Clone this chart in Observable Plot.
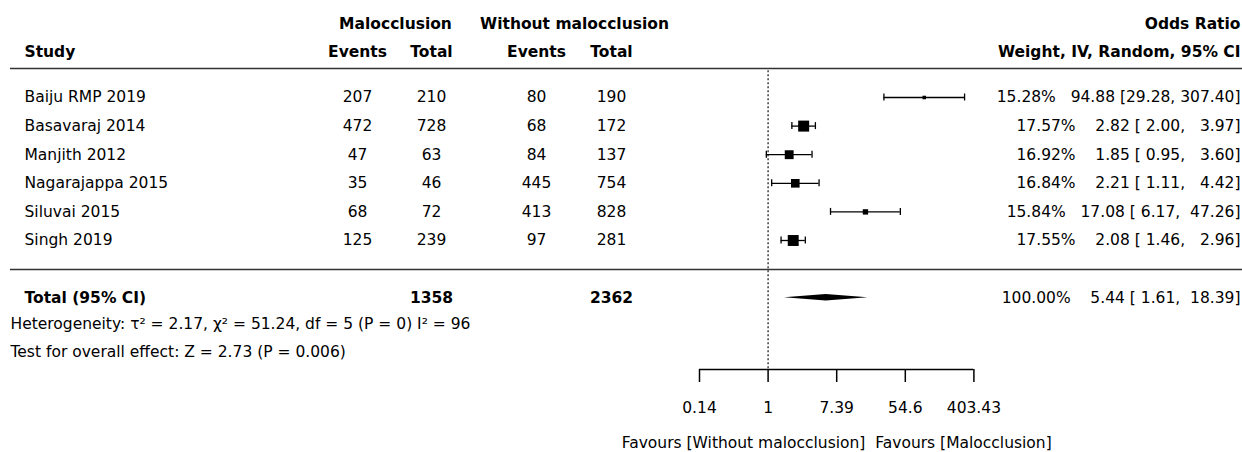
<!DOCTYPE html>
<html>
<head>
<meta charset="utf-8">
<script src="https://cdn.jsdelivr.net/npm/d3@7"></script>
<script src="https://cdn.jsdelivr.net/npm/@observablehq/plot@0.6"></script>
<style>
  html, body { margin: 0; padding: 0; background: #fff; }
  #chart svg text { white-space: pre; }
</style>
</head>
<body>
<div id="chart"></div>
<script>
// ---------- data ----------
const studies = ["Baiju RMP 2019", "Basavaraj 2014", "Manjith 2012", "Nagarajappa 2015", "Siluvai 2015", "Singh 2019"];
const malEvents = [207, 472, 47, 35, 68, 125];
const malTotal = [210, 728, 63, 46, 72, 239];
const withoutEvents = [80, 68, 84, 445, 413, 97];
const withoutTotal = [190, 172, 137, 754, 828, 281];
const weights = [15.28, 17.57, 16.92, 16.84, 15.84, 17.55];
const oddsRatio = [94.88, 2.82, 1.85, 2.21, 17.08, 2.08];
const ciLower = [29.28, 2.00, 0.95, 1.11, 6.17, 1.46];
const ciUpper = [307.40, 3.97, 3.60, 4.42, 47.26, 2.96];

const totalLabel = "Total (95% CI)";
const totalMal = 1358;
const totalWithout = 2362;
const totalWeight = 100.00;
const totalOR = 5.44;
const totalLower = 1.61;
const totalUpper = 18.39;

const heterogeneityText = "Heterogeneity: τ² = 2.17, χ² = 51.24, df = 5 (P = 0) I² = 96";
const overallEffectText = "Test for overall effect: Z = 2.73 (P = 0.006)";

const groupHeaders = ["Malocclusion", "Without malocclusion", "Odds Ratio"];
const columnHeaders = ["Study", "Events", "Total", "Events", "Total", "Weight, IV, Random, 95% CI"];

const tickExponents = [-2, 0, 2, 4, 6];
const tickLabels = ["0.14", "1", "7.39", "54.6", "403.43"];
const favoursText = "Favours [Without malocclusion]  Favours [Malocclusion]";

// ---------- layout ----------
const W = 1242, H = 452;
const FONT = "DejaVu Sans", FS = 15.5;
const ROW0 = 97, STEP = 28.6, AXIS_PX = 369;
const rowOf = (px) => (px - ROW0) / STEP;
const AXIS_ROW = rowOf(AXIS_PX);
const TICK_END_ROW = rowOf(AXIS_PX + 13);
const TICK_LABEL_ROW = rowOf(407.5);
const FAVOURS_ROW = rowOf(443);
const TOTAL_ROW = 7;
const HET_ROW = rowOf(324);
const TEST_ROW = rowOf(352);
const HEAD1_ROW = rowOf(24);
const HEAD2_ROW = rowOf(52);
const RULE_TOP = rowOf(68);
const RULE_MID = rowOf(269);
const CAP = 3.5 / STEP;
const DIAMOND_H = 3.2 / STEP;
const groupHeaderX = [395, 574, null];
const columnHeaderX = [24, 357, 431, 536, 611, null];
const colX = {study: 24, malEv: 357, malTot: 431, woEv: 536, woTot: 611, left: 10};

// ---------- derived tables ----------
const rows = studies.map((s, i) => ({
  i, study: s, me: malEvents[i], mt: malTotal[i], we: withoutEvents[i], wt: withoutTotal[i],
  w: weights[i], or: oddsRatio[i], lo: ciLower[i], hi: ciUpper[i]
}));
const pad = (v, n) => v.toFixed(2).padStart(n, " ");
const ciText = (w, or, lo, hi) => `${w.toFixed(2)}%   ${pad(or, 5)} [${pad(lo, 5)}, ${pad(hi, 6)}]`;
const diamond = [
  {x: totalLower, y1: TOTAL_ROW, y2: TOTAL_ROW},
  {x: totalOR, y1: TOTAL_ROW - DIAMOND_H, y2: TOTAL_ROW + DIAMOND_H},
  {x: totalUpper, y1: TOTAL_ROW, y2: TOTAL_ROW}
];
const ticks = tickExponents.map((e, k) => ({value: Math.exp(e), label: tickLabels[k]}));

const txt = {fontFamily: FONT, fontSize: FS, fill: "black", lineAnchor: "middle"};
function label(text, x, row, opts = {}) {
  const right = x == null;
  return Plot.text([text], {
    ...txt, text: d => d, y: () => row,
    frameAnchor: right ? "right" : "left",
    dx: right ? -2 : x,
    textAnchor: right ? "end" : (opts.textAnchor || "middle"),
    ...opts
  });
}
function column(field, x, anchor = "middle", opts = {}) {
  return Plot.text(rows, {...txt, y: "i", text: field, frameAnchor: "left", dx: x, textAnchor: anchor, ...opts});
}

const plot = Plot.plot({
  width: W, height: H,
  marginTop: 0, marginRight: 0, marginLeft: 0, marginBottom: H - AXIS_PX,
  style: {fontFamily: FONT, fontSize: FS + "px", background: "white", color: "black"},
  x: {type: "log", domain: [ticks[0].value, ticks[ticks.length - 1].value], range: [699, 973.4], axis: null},
  y: {type: "linear", domain: [rowOf(0), AXIS_ROW], range: [0, AXIS_PX], axis: null},
  r: {type: "linear", domain: [d3.min(weights), d3.max(weights)], range: [2.0, 6.2]},
  marks: [
    // headers
    ...groupHeaders.map((h, k) => label(h, groupHeaderX[k], HEAD1_ROW, {fontWeight: "bold"})),
    ...columnHeaders.map((h, k) => label(h, columnHeaderX[k], HEAD2_ROW,
        {fontWeight: "bold", textAnchor: k === 0 ? "start" : (columnHeaderX[k] == null ? "end" : "middle")})),
    // table rules
    Plot.ruleY([RULE_TOP, RULE_MID], {insetLeft: 10, stroke: "#333", strokeWidth: 1.6}),
    // study columns
    column("study", colX.study, "start"),
    column("me", colX.malEv),
    column("mt", colX.malTot),
    column("we", colX.woEv),
    column("wt", colX.woTot),
    Plot.text(rows, {...txt, y: "i", text: d => ciText(d.w, d.or, d.lo, d.hi), frameAnchor: "right", dx: -2, textAnchor: "end"}),
    // totals
    label(totalLabel, colX.study, TOTAL_ROW, {fontWeight: "bold", textAnchor: "start"}),
    label(String(totalMal), colX.malTot, TOTAL_ROW, {fontWeight: "bold"}),
    label(String(totalWithout), colX.woTot, TOTAL_ROW, {fontWeight: "bold"}),
    label(ciText(totalWeight, totalOR, totalLower, totalUpper), null, TOTAL_ROW),
    label(heterogeneityText, colX.left, HET_ROW, {textAnchor: "start"}),
    label(overallEffectText, colX.left, TEST_ROW, {textAnchor: "start"}),
    // null line
    Plot.ruleX([1], {y1: RULE_TOP + 0.08, y2: AXIS_ROW, stroke: "#333", strokeWidth: 1.4, strokeDasharray: "2,2"}),
    // confidence intervals
    Plot.ruleY(rows, {y: "i", x1: "lo", x2: "hi", stroke: "black", strokeWidth: 1.3}),
    Plot.ruleX(rows, {x: "lo", y1: d => d.i - CAP, y2: d => d.i + CAP, stroke: "black", strokeWidth: 1.3}),
    Plot.ruleX(rows, {x: "hi", y1: d => d.i - CAP, y2: d => d.i + CAP, stroke: "black", strokeWidth: 1.3}),
    Plot.dot(rows, {x: "or", y: "i", r: "w", symbol: "square", fill: "black"}),
    // pooled diamond
    Plot.areaY(diamond, {x: "x", y1: "y1", y2: "y2", fill: "black"}),
    // axis: baseline, ticks, labels
    Plot.ruleY([AXIS_ROW], {x1: ticks[0].value, x2: ticks[ticks.length - 1].value, stroke: "black", strokeWidth: 1.5}),
    Plot.ruleX(ticks, {x: "value", y1: () => AXIS_ROW, y2: () => TICK_END_ROW, stroke: "black", strokeWidth: 1.5}),
    Plot.text(ticks, {...txt, x: "value", y: () => TICK_LABEL_ROW, text: "label", textAnchor: "middle"}),
    Plot.text([favoursText], {...txt, text: d => d, x: () => ticks[2].value, y: () => FAVOURS_ROW, textAnchor: "middle"})
  ]
});
document.getElementById("chart").appendChild(plot);
</script>
</body>
</html>
